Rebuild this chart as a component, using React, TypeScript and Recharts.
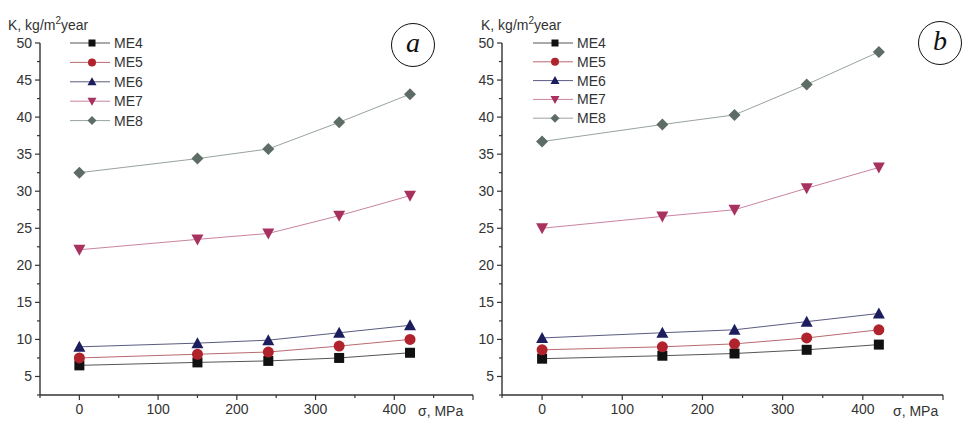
import { Legend, Line, LineChart, XAxis, YAxis } from "recharts";

const sigma = [0, 150, 240, 330, 420];
const seriesNames = ["ME4", "ME5", "ME6", "ME7", "ME8"];

// panel a
const aME4 = [6.5, 6.9, 7.1, 7.5, 8.2];
const aME5 = [7.5, 8.0, 8.3, 9.1, 10.0];
const aME6 = [9.0, 9.5, 9.9, 10.9, 11.9];
const aME7 = [22.1, 23.5, 24.3, 26.7, 29.4];
const aME8 = [32.5, 34.4, 35.7, 39.3, 43.1];

// panel b
const bME4 = [7.4, 7.8, 8.1, 8.6, 9.3];
const bME5 = [8.6, 9.0, 9.4, 10.2, 11.3];
const bME6 = [10.2, 10.9, 11.3, 12.4, 13.5];
const bME7 = [25.0, 26.6, 27.5, 30.4, 33.2];
const bME8 = [36.7, 39.0, 40.3, 44.4, 48.8];

const xTicks = [-50, 0, 50, 100, 150, 200, 250, 300, 350, 400, 450, 500];
const yTicks = [2.5, 5, 7.5, 10, 12.5, 15, 17.5, 20, 22.5, 25, 27.5, 30, 32.5, 35, 37.5, 40, 42.5, 45, 47.5, 50];

const FONT = '"Liberation Sans", Arial, sans-serif';
const TXT = "#333";

const styles: Record<string, { marker: string; line: string; shape: string }> = {
  ME4: { marker: "#111111", line: "#555555", shape: "square" },
  ME5: { marker: "#b0222c", line: "#b86a70", shape: "circle" },
  ME6: { marker: "#1b1d5c", line: "#5a5c80", shape: "up" },
  ME7: { marker: "#a8325f", line: "#c884a2", shape: "down" },
  ME8: { marker: "#5d6d66", line: "#98a39e", shape: "diamond" },
};

function Marker({ cx, cy, shape, color, s = 5 }: { cx: number; cy: number; shape: string; color: string; s?: number }) {
  if (shape === "square") return <rect x={cx - s} y={cy - s} width={s * 2} height={s * 2} fill={color} />;
  if (shape === "circle") return <circle cx={cx} cy={cy} r={s + 0.5} fill={color} />;
  if (shape === "up")
    return <polygon points={`${cx},${cy - s - 1} ${cx + s + 1},${cy + s} ${cx - s - 1},${cy + s}`} fill={color} />;
  if (shape === "down")
    return <polygon points={`${cx},${cy + s + 1} ${cx + s + 1},${cy - s} ${cx - s - 1},${cy - s}`} fill={color} />;
  return <polygon points={`${cx},${cy - s - 1} ${cx + s + 1},${cy} ${cx},${cy + s + 1} ${cx - s - 1},${cy}`} fill={color} />;
}

const XTick = (props: any) => {
  const { x, y, payload } = props;
  const v = payload.value;
  const major = v % 100 === 0;
  return (
    <g>
      <line x1={x} x2={x} y1={y} y2={y + (major ? 5 : 3)} stroke={TXT} strokeWidth={1.2} />
      {major && v >= 0 && v <= 400 && (
        <text x={x} y={y + 19} textAnchor="middle" fontSize={14} fill={TXT} fontFamily={FONT}>
          {v}
        </text>
      )}
    </g>
  );
};

const YTick = (props: any) => {
  const { x, y, payload } = props;
  const v = payload.value;
  const major = v % 5 === 0;
  return (
    <g>
      <line x1={x - (major ? 5 : 3)} x2={x} y1={y} y2={y} stroke={TXT} strokeWidth={1.2} />
      {major && (
        <text x={x - 8} y={y + 5} textAnchor="end" fontSize={14} fill={TXT} fontFamily={FONT}>
          {v}
        </text>
      )}
    </g>
  );
};

function LegendBox({ spacing }: { spacing: number }) {
  return (
    <svg width={90} height={spacing * 5} style={{ display: "block", overflow: "visible" }}>
      {seriesNames.map((n, i) => {
        const cy = i * spacing + 8;
        const st = styles[n];
        return (
          <g key={n}>
            <line x1={0} x2={40} y1={cy} y2={cy} stroke={st.line} strokeWidth={1} />
            <Marker cx={22} cy={cy} shape={st.shape} color={st.marker} s={3.5} />
            <text x={44} y={cy + 5} fontSize={14} fill={TXT} fontFamily={FONT}>
              {n}
            </text>
          </g>
        );
      })}
    </svg>
  );
}

function Panel({
  values,
  width,
  left,
  right,
  legendLeft,
  spacing,
}: {
  values: number[][];
  width: number;
  left: number;
  right: number;
  legendLeft: number;
  spacing: number;
}) {
  const data = sigma.map((s, i) => {
    const row: Record<string, number> = { s };
    seriesNames.forEach((n, k) => (row[n] = values[k][i]));
    return row;
  });
  return (
    <LineChart width={width} height={422} data={data} margin={{ top: 43, right, bottom: 7, left: 0 }}>
      <XAxis
        type="number"
        dataKey="s"
        domain={[-50, 500]}
        ticks={xTicks}
        interval={0}
        height={20}
        tickSize={0}
        tickMargin={0}
        tickLine={false}
        tick={XTick}
        axisLine={{ stroke: TXT, strokeWidth: 1.4 }}
      />
      <YAxis
        type="number"
        domain={[2.5, 50]}
        ticks={yTicks}
        interval={0}
        width={left}
        tickSize={0}
        tickMargin={0}
        tickLine={false}
        tick={YTick}
        axisLine={{ stroke: TXT, strokeWidth: 1.4 }}
      />
      <Legend
        verticalAlign="middle"
        align="center"
        layout="horizontal"
        wrapperStyle={{ position: "absolute", left: legendLeft, top: 35, width: 100, height: 100 }}
        content={() => <LegendBox spacing={spacing} />}
      />
      {seriesNames.map((n) => {
        const st = styles[n];
        return (
          <Line
            key={n}
            dataKey={n}
            stroke={st.line}
            strokeWidth={1}
            isAnimationActive={false}
            dot={(p: any) => <Marker key={`${n}-${p.index}`} cx={p.cx} cy={p.cy} shape={st.shape} color={st.marker} />}
            activeDot={false}
          />
        );
      })}
    </LineChart>
  );
}

const labelStyle: React.CSSProperties = {
  position: "absolute",
  fontFamily: FONT,
  fontSize: 14,
  color: TXT,
  whiteSpace: "nowrap",
};

function Circle({ x, y, ch }: { x: number; y: number; ch: string }) {
  return (
    <div
      style={{
        position: "absolute",
        left: x - 23,
        top: y - 23,
        width: 44,
        height: 44,
        border: "1.5px solid #111",
        borderRadius: "50%",
        display: "flex",
        alignItems: "center",
        justifyContent: "center",
        fontFamily: '"Liberation Serif", "DejaVu Serif", serif',
        fontStyle: "italic",
        fontSize: 28,
        color: "#111",
        lineHeight: 1,
        paddingBottom: 4,
        boxSizing: "border-box",
      }}
    >
      {ch}
    </div>
  );
}

export default function App() {
  return (
    <div style={{ position: "absolute", left: 0, top: 0, width: 963, height: 422, background: "#fff", overflow: "hidden" }}>
      <div style={{ position: "absolute", left: 0, top: 0 }}>
        <Panel values={[aME4, aME5, aME6, aME7, aME8]} width={478} left={40} right={5} legendLeft={70} spacing={19.4} />
      </div>
      <div style={{ position: "absolute", left: 470, top: 0 }}>
        <Panel values={[bME4, bME5, bME6, bME7, bME8]} width={493} left={32} right={20} legendLeft={63} spacing={18.8} />
      </div>
      <div style={{ ...labelStyle, left: 8, top: 15 }}>
        K, kg/m<sup style={{ fontSize: 10 }}>2</sup>year
      </div>
      <div style={{ ...labelStyle, left: 481, top: 15 }}>
        K, kg/m<sup style={{ fontSize: 10 }}>2</sup>year
      </div>
      <div style={{ ...labelStyle, left: 418, top: 403 }}>σ, MPa</div>
      <div style={{ ...labelStyle, left: 893, top: 403 }}>σ, MPa</div>
      <Circle x={414} y={46} ch="a" />
      <Circle x={941} y={44} ch="b" />
    </div>
  );
}
